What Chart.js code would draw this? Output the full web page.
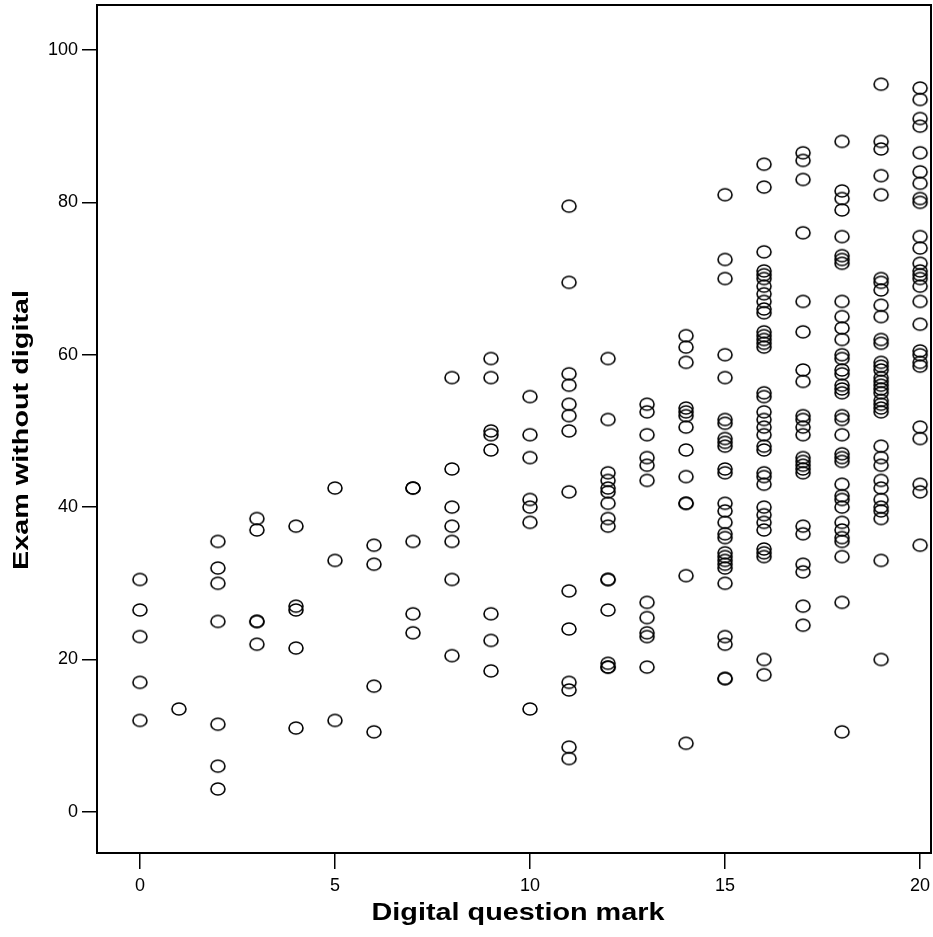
<!DOCTYPE html>
<html>
<head>
<meta charset="utf-8">
<script src="https://cdn.jsdelivr.net/npm/chart.js@4/dist/chart.umd.min.js"></script>
<style>
  html, body { margin: 0; padding: 0; background: #fff; }
  #wrap { width: 933px; height: 937px; }
</style>
</head>
<body>
<div id="wrap"><canvas id="scatterChart"></canvas></div>
<script>
// digital question mark (x) and the exam marks seen at each one (y)
const digitalMarks = [0, 1, 2, 3, 4, 5, 6, 7, 8, 9, 10, 11, 12, 13, 14, 15, 16, 17, 18, 19, 20];
const examScores = [
  [30.5, 26.5, 23, 17, 12],
  [13.5],
  [35.5, 32, 30, 25, 11.5, 6, 3],
  [38.5, 37, 25, 25, 22],
  [37.5, 27, 26.5, 21.5, 11],
  [42.5, 33, 12],
  [35, 32.5, 16.5, 10.5],
  [42.5, 42.5, 35.5, 26, 23.5],
  [57, 45, 40, 37.5, 35.5, 30.5, 20.5],
  [59.5, 57, 50, 49.5, 47.5, 26, 22.5, 18.5],
  [54.5, 49.5, 46.5, 41, 40, 38, 13.5],
  [79.5, 69.5, 57.5, 56, 53.5, 52, 50, 42, 29, 24, 17, 16, 8.5, 7],
  [59.5, 51.5, 44.5, 43.5, 42.5, 42, 40.5, 38.5, 37.5, 30.5, 30.5, 26.5, 19.5, 19, 19],
  [53.5, 52.5, 49.5, 46.5, 45.5, 43.5, 27.5, 25.5, 23.5, 23, 19],
  [62.5, 61, 59, 53, 52.5, 52, 50.5, 47.5, 44, 40.5, 40.5, 31, 9],
  [81, 72.5, 70, 60, 57, 51.5, 51, 49, 48.5, 48, 45, 44.5, 40.5, 39.5, 38, 36.5, 36, 34, 33.5, 33, 32.5, 32, 30, 23, 22, 17.5, 17.5],
  [85, 82, 73.5, 71, 70.5, 70, 69, 68, 67, 66, 65.5, 63, 62.5, 62, 61.5, 61, 55, 54.5, 52.5, 51.5, 50.5, 49.5, 48, 47.5, 44.5, 44, 43, 40, 39, 38, 37, 34.5, 34, 33.5, 20, 18],
  [86.5, 85.5, 83, 76, 67, 63, 58, 56.5, 52, 51.5, 50.5, 49.5, 46.5, 46, 45.5, 45, 44.5, 37.5, 36.5, 32.5, 31.5, 27, 24.5],
  [88, 81.5, 80.5, 79, 75.5, 73, 72.5, 72, 67, 65, 63.5, 62, 60, 59.5, 58, 57.5, 56, 55.5, 55, 52, 51.5, 49.5, 47, 46.5, 46, 43, 41.5, 41, 40, 38, 37, 36, 35.5, 33.5, 27.5, 10.5],
  [95.5, 88, 87, 83.5, 81, 70, 69.5, 68.5, 66.5, 65, 62, 61.5, 59, 58.5, 58, 57, 56.5, 56, 55.5, 55, 54, 53.5, 53, 52.5, 48, 46.5, 45.5, 43.5, 42.5, 41, 40, 39.5, 38.5, 33, 20],
  [95, 93.5, 91, 90, 86.5, 84, 82.5, 80.5, 80, 75.5, 74, 72, 71, 70.5, 70, 69, 67, 64, 60.5, 60, 59, 58.5, 50.5, 49, 43, 42, 35]
];
const xTicks = [0, 5, 10, 15, 20];
const yTicks = [0, 20, 40, 60, 80, 100];
const xTitle = 'Digital question mark';
const yTitle = 'Exam without digital';

const points = digitalMarks.flatMap((m, i) => examScores[i].map(v => ({ x: m, y: v })));

const font = 'Liberation Sans, Arial, sans-serif';

// little hollow ellipse used as the marker
function makeMarker() {
  const c = document.createElement('canvas');
  c.width = 18;
  c.height = 16;
  const g = c.getContext('2d');
  g.strokeStyle = '#000';
  g.lineWidth = 1.6;
  g.beginPath();
  g.ellipse(9, 8, 7, 6, 0, 0, Math.PI * 2);
  g.stroke();
  return c;
}

// box round the plot area + the (wide) axis titles
const frame = {
  id: 'frame',
  afterDraw(chart) {
    const { ctx, chartArea: a } = chart;
    ctx.save();
    ctx.strokeStyle = '#000';
    ctx.lineWidth = 2;
    ctx.strokeRect(a.left, a.top, a.right - a.left, a.bottom - a.top);

    ctx.fillStyle = '#000';
    ctx.textAlign = 'center';
    ctx.textBaseline = 'alphabetic';
    ctx.font = 'bold 24px ' + font;
    ctx.save();
    ctx.translate((a.left + a.right) / 2 + 4, 920);
    ctx.scale(1.2, 1);
    ctx.fillText(xTitle, 0, 0);
    ctx.restore();

    ctx.font = 'bold 22.5px ' + font;
    ctx.translate(28, (a.top + a.bottom) / 2 + 1);
    ctx.rotate(-Math.PI / 2);
    ctx.scale(1.28, 1);
    ctx.fillText(yTitle, 0, 0);
    ctx.restore();
  }
};

const ctx = document.getElementById('scatterChart').getContext('2d');
new Chart(ctx, {
  type: 'scatter',
  data: {
    datasets: [{
      label: yTitle,
      data: points,
      pointStyle: makeMarker(),
      pointRadius: 7,
      pointHoverRadius: 7
    }]
  },
  options: {
    responsive: true,
    maintainAspectRatio: false,
    animation: false,
    layout: { autoPadding: false, padding: { top: 5, right: 2, left: 0, bottom: 0 } },
    plugins: {
      legend: { display: false },
      tooltip: { enabled: false }
    },
    scales: {
      x: {
        type: 'linear',
        min: -1.1,
        max: 20.28,
        afterFit: s => { s.height = 84; s.paddingLeft = 0; s.paddingRight = 0; },
        afterBuildTicks: s => { s.ticks = xTicks.map(v => ({ value: v })); },
        grid: { drawOnChartArea: false, tickLength: 16, color: '#000', lineWidth: 1.5 },
        border: { display: true, color: '#000', width: 2 },
        ticks: { color: '#000', padding: 6, font: { family: font, size: 18 }, maxRotation: 0 },
        title: { display: false }
      },
      y: {
        type: 'linear',
        min: -5.4,
        max: 105.9,
        afterFit: s => { s.width = 97; s.paddingTop = 0; s.paddingBottom = 0; },
        afterBuildTicks: s => { s.ticks = yTicks.map(v => ({ value: v })); },
        grid: { drawOnChartArea: false, tickLength: 15, color: '#000', lineWidth: 1.5 },
        border: { display: true, color: '#000', width: 2 },
        ticks: { color: '#000', padding: 4, font: { family: font, size: 18 } },
        title: { display: false }
      }
    }
  },
  plugins: [frame]
});
</script>
</body>
</html>
